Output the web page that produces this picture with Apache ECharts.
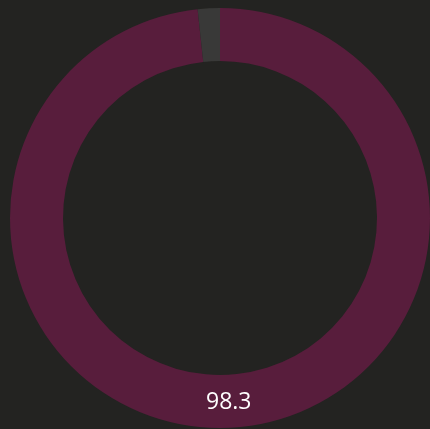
<!DOCTYPE html>
<html>
<head>
<meta charset="utf-8">
<script src="https://cdn.jsdelivr.net/npm/echarts@6/dist/echarts.min.js"></script>
<style>
html,body{margin:0;padding:0;background:#232321;}
#c{width:430px;height:429px;}
</style>
</head>
<body>
<div id="c"></div>
<script>
const categories = ['Value', 'Remainder'];
const values = [98.3, 1.7];
const labelText = '98.3';

const chart = echarts.init(document.getElementById('c'));
chart.setOption({
  backgroundColor: '#232321',
  animation: false,
  series: [{
    type: 'pie',
    center: [220, 218],
    radius: [157, 210],
    startAngle: 90,
    clockwise: true,
    silent: true,
    label: { show: false },
    labelLine: { show: false },
    data: categories.map((c, i) => ({
      name: c,
      value: values[i],
      itemStyle: { color: i === 0 ? '#581d3c' : '#393938' }
    }))
  }],
  graphic: [{
    type: 'text',
    z: 100,
    zlevel: 1,
    left: 206,
    top: 391,
    style: {
      text: labelText,
      fill: '#ffffff',
      fontSize: 23,
      fontFamily: '"Open Sans", sans-serif'
    }
  }]
});
</script>
</body>
</html>
